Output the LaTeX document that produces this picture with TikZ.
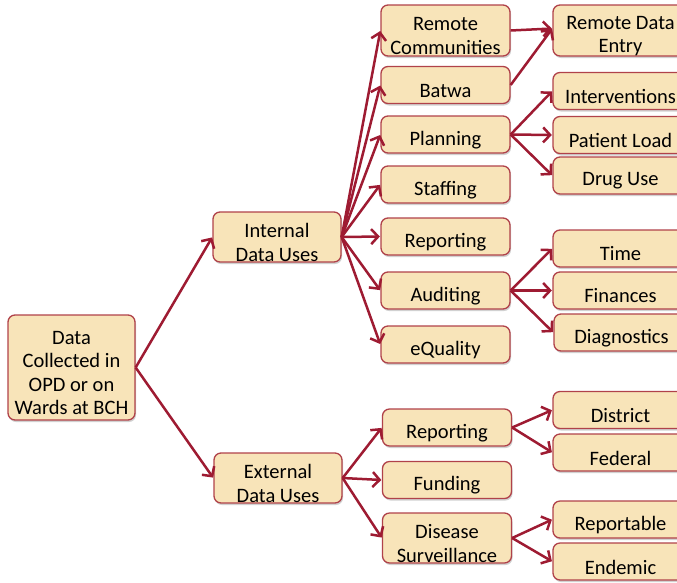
\documentclass[tikz,border=0pt]{standalone}
\usepackage{fontspec}
\setmainfont{Carlito}
\usetikzlibrary{arrows.meta,shadows}
\definecolor{boxfill}{HTML}{F8E4B9}
\definecolor{boxline}{HTML}{B0424A}
\definecolor{arrowcol}{HTML}{9E1B32}
\tikzset{
  box/.style={draw=boxline, line width=1.3pt, fill=boxfill, rounded corners=7pt,
    inner sep=0pt, drop shadow={shadow xshift=1pt, shadow yshift=-2pt, opacity=0.3, fill=black!60}},
  txt/.style={font=\fontsize{20.5}{23.5}\selectfont, align=center, text=black, inner sep=0pt},
  arr/.style={draw=arrowcol, line width=2.5pt, -{Straight Barb[length=7pt,width=15pt]}, shorten >=0.5pt},
}
% \bx{name}{cx}{cy}{w}{h}{text}
\newcommand{\bx}[6]{%
  \node[box, minimum width=#4pt, minimum height=#5pt] (#1) at (#2,#3) {};
  \node[txt] (#1-t) at ([yshift=-5.5pt]#1.center) {#6};
}
\begin{document}
\begin{tikzpicture}[x=1pt,y=-1pt]
\useasboundingbox (0,0) rectangle (677,582);
\clip (0,0) rectangle (677,582);
% root
\bx{root}{71.5}{367.5}{127}{105}{Data\\Collected in\\OPD or on\\Wards at BCH}
% level 1
\bx{int}{277}{237}{128}{50}{Internal\\Data Uses}
\bx{ext}{278}{478}{128}{50}{External\\Data Uses}
% level 2 internal
\bx{rc}{445.5}{30.5}{129}{51}{Remote\\Communities}
\bx{bat}{445.5}{85}{129}{37}{Batwa}
\bx{pla}{445.5}{134.5}{129}{37}{Planning}
\bx{sta}{445.5}{184.5}{129}{37}{Staffing}
\bx{rep}{445.5}{236.5}{129}{37}{Reporting}
\bx{aud}{445.5}{290.5}{129}{37}{Auditing}
\bx{equ}{445.5}{344.5}{129}{37}{eQuality}
% level 2 external
\bx{erep}{447}{427.5}{129}{37}{Reporting}
\bx{fun}{447}{480}{129}{37}{Funding}
\bx{dis}{447}{538}{129}{50}{Disease\\Surveillance}
% level 3 (cut at right edge)
\bx{rde}{620.5}{30.5}{135}{51}{Remote Data\\Entry}
\bx{int3}{620.5}{91}{135}{37}{Interventions}
\bx{pl}{620.5}{135}{135}{37}{Patient Load}
\bx{du}{620.5}{175.5}{135}{37}{Drug Use}
\bx{tim}{620.5}{248.5}{135}{37}{Time}
\bx{fin}{620.5}{290.5}{135}{37}{Finances}
\bx{dia}{621.5}{332.5}{135}{37}{Diagnostics}
\bx{dst}{620.5}{410}{135}{37}{District}
\bx{fed}{620.5}{452.5}{135}{37}{Federal}
\bx{rpt}{620.5}{519.5}{135}{37}{Reportable}
\bx{end}{620.5}{561.5}{135}{37}{Endemic}
% connectors
\draw[arr] (root.east) -- (int.west);
\draw[arr] (root.east) -- (ext.west);
\foreach \t in {rc,bat,pla,sta,rep,aud,equ}
  \draw[arr] (int.east) -- (\t.west);
\foreach \t in {erep,fun,dis}
  \draw[arr] (ext.east) -- (\t.west);
\draw[arr] (rc.east) -- ([yshift=2pt]rde.west);
\draw[arr] (bat.east) -- ([yshift=2pt]rde.west);
\foreach \t in {int3,pl,du}
  \draw[arr] (pla.east) -- (\t.west);
\foreach \t in {tim,fin,dia}
  \draw[arr] (aud.east) -- (\t.west);
\foreach \t in {dst,fed}
  \draw[arr] (erep.east) -- (\t.west);
\foreach \t in {rpt,end}
  \draw[arr] (dis.east) -- (\t.west);
\end{tikzpicture}
\end{document}
